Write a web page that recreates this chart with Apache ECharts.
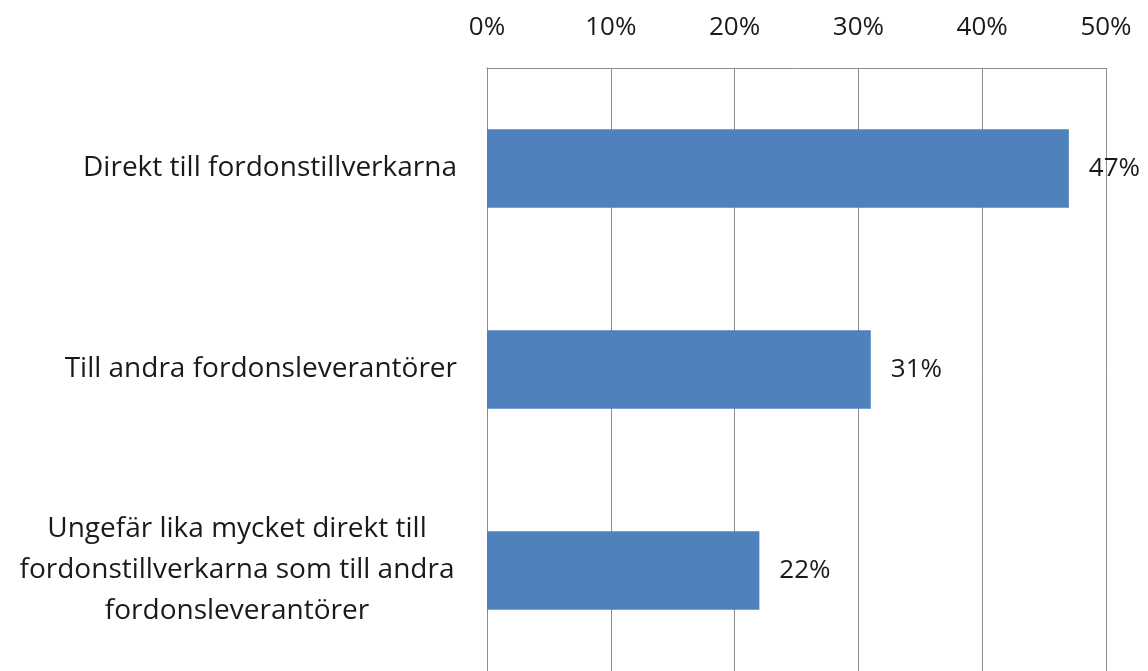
<!DOCTYPE html>
<html>
<head>
<meta charset="utf-8">
<script src="https://cdn.jsdelivr.net/npm/echarts@6/dist/echarts.min.js"></script>
<style>
html,body{margin:0;padding:0;background:#fff;}
#chart{width:1148px;height:671px;}
</style>
</head>
<body>
<div id="chart"></div>
<script>
var categories = [
  'Direkt till fordonstillverkarna',
  'Till andra fordonsleverantörer',
  'Ungefär lika mycket direkt till\nfordonstillverkarna som till andra\nfordonsleverantörer'
];
var values = [47, 31, 22];
var tickMax = 50;
var tickStep = 10;

var chart = echarts.init(document.getElementById('chart'));
chart.setOption({
  animation: false,
  textStyle: {fontFamily: 'Open Sans'},
  grid: {left: 487, right: 42, top: 68, bottom: -2},
  xAxis: {
    type: 'value',
    position: 'top',
    min: 0,
    max: tickMax,
    interval: tickStep,
    axisLine: {show: true, lineStyle: {color: '#8c8c8c', width: 1}},
    axisTick: {show: false},
    axisLabel: {formatter: '{value}%', fontSize: 26, color: '#1a1a1a', margin: 27, fontFamily: 'Open Sans'},
    splitLine: {show: true, lineStyle: {color: '#8c8c8c', width: 1}}
  },
  yAxis: {
    type: 'category',
    inverse: true,
    data: categories,
    axisLine: {show: true, lineStyle: {color: '#8c8c8c', width: 1}},
    axisTick: {show: false},
    axisLabel: {
      fontSize: 28, color: '#1a1a1a', margin: 30, lineHeight: 41, align: 'right', fontFamily: 'Open Sans',
      // wrapped labels: lines centred in a block that is right aligned
      formatter: function (v) {
        if (v.indexOf('\n') < 0) return v;
        return v.split('\n').map(function (s) { return '{c|' + s + '}'; }).join('\n');
      },
      rich: {
        c: {width: 440, align: 'center', fontSize: 28, lineHeight: 41, color: '#1a1a1a', fontFamily: 'Open Sans'}
      }
    }
  },
  series: [{
    type: 'bar',
    data: values,
    barWidth: '39%',
    itemStyle: {color: '#4f81bd'},
    label: {show: true, position: 'right', distance: 20, formatter: '{c}%', fontSize: 26, color: '#1a1a1a', fontFamily: 'Open Sans'}
  }]
});
</script>
</body>
</html>
